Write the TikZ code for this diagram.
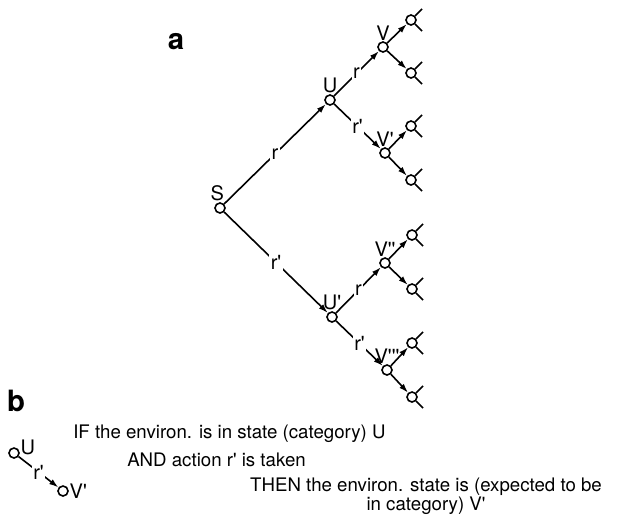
\documentclass[tikz,border=0pt]{standalone}
\usepackage{fontspec}
\setmainfont{TeX Gyre Heros}[Ligatures=TeXOff]
\usetikzlibrary{arrows.meta,positioning}
\colorlet{treeLine}{black}
\tikzset{
  treestate/.style={
    circle, draw=treeLine, line width=1.2pt, fill=white,
    inner sep=0pt, minimum size=7.5pt
  },
  treearrow/.style={-{Latex[length=7pt,width=4.5pt]}, line width=1.2pt, draw=treeLine},
  treeline/.style={line width=1.2pt, draw=treeLine},
  treelab/.style={font=\fontsize{15}{16}\selectfont, inner sep=1pt, fill=white},
  treename/.style={font=\fontsize{15}{16}\selectfont, inner sep=0.5pt},
  treetext/.style={font=\fontsize{14}{14.5}\selectfont, inner sep=0pt, align=center},
  treepanel/.style={font=\fontsize{22}{22}\selectfont\bfseries, inner sep=0pt}
}
\begin{document}
\begin{tikzpicture}[x=0.75pt,y=-0.75pt]
  \useasboundingbox (0,0) rectangle (620,526);

  % panel a: the tree of states
  \node[treepanel] (pa) at (176,42) {a};
  \node[treestate, label={[treename, xshift=-2pt]above:S}] (s) at (220,208) {};
  \node[treestate, label={[treename]above:U}] (u) at (330,100) {};
  \node[treestate, label={[treename]above:U'}] (u2) at (332,317) {};
  \node[treestate, label={[treename]above:V}] (v) at (383,47) {};
  \node[treestate, label={[treename]above:V'}] (v2) at (385,153) {};
  \node[treestate, label={[treename]above:V''}] (v3) at (385,263) {};
  \node[treestate, label={[treename]above:V'''}] (v4) at (387,370) {};
  \node[treestate] (l1) at (411,20) {};
  \node[treestate] (l2) at (411,73) {};
  \node[treestate] (l3) at (411,126) {};
  \node[treestate] (l4) at (411,180) {};
  \node[treestate] (l5) at (412,235) {};
  \node[treestate] (l6) at (412,289) {};
  \node[treestate] (l7) at (412,343) {};
  \node[treestate] (l8) at (412,397) {};

  \draw[treearrow] (s) -- node[treelab] {r} (u);
  \draw[treearrow] (s) -- node[treelab] {r'} (u2);
  \draw[treearrow] (u) -- node[treelab] {r} (v);
  \draw[treearrow] (u) -- node[treelab] {r'} (v2);
  \draw[treearrow] (u2) -- node[treelab] {r} (v3);
  \draw[treearrow] (u2) -- node[treelab] {r'} (v4);
  \draw[treearrow] (v) -- (l1);
  \draw[treearrow] (v) -- (l2);
  \draw[treearrow] (v2) -- (l3);
  \draw[treearrow] (v2) -- (l4);
  \draw[treearrow] (v3) -- (l5);
  \draw[treearrow] (v3) -- (l6);
  \draw[treearrow] (v4) -- (l7);
  \draw[treearrow] (v4) -- (l8);
  \foreach \n in {l1,l2,l3,l4,l5,l6,l7,l8} {
    \draw[treeline] (\n.45) -- ++(7,-7);
    \draw[treeline] (\n.-45) -- ++(7,7);
  }

  % panel b: one rule read off the tree
  \node[treepanel] (pb) at (16,401) {b};
  \node[treestate, label={[treename, yshift=4pt]right:U}] (bu) at (14,453) {};
  \node[treestate, label={[treename]right:V'}] (bv) at (63,491) {};
  \draw[treearrow] (bu) -- node[treelab] {r'} (bv);

  \node[treetext, anchor=west] (rif) at (73,434)
    {IF the environ. is in state (category) U};
  \node[treetext, anchor=west] (rand) at (127,460)
    {AND action r' is taken};
  \node[treetext] (rthen) at (426,496)
    {THEN the environ. state is (expected to be\\in category) V'};
\end{tikzpicture}
\end{document}
